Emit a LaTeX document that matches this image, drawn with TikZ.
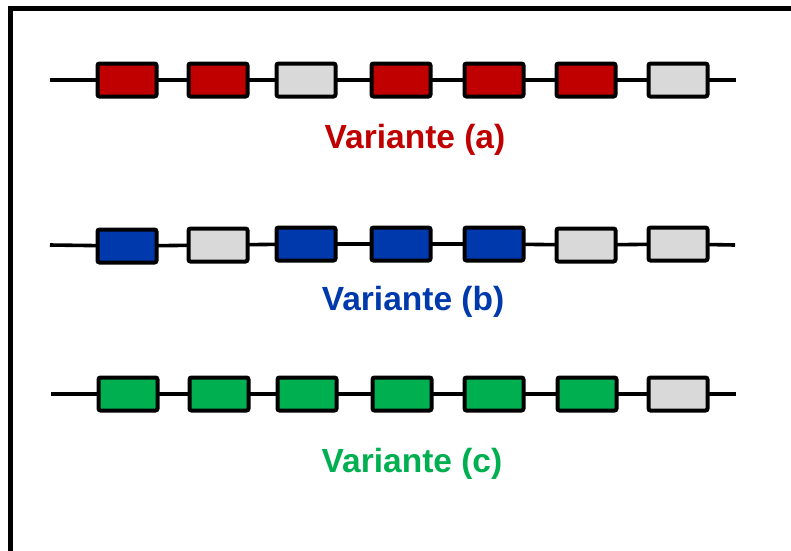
\documentclass[tikz,border=0pt]{standalone}
\usepackage{fontspec}
\setmainfont{Liberation Sans}
\definecolor{cred}{HTML}{C00000}
\definecolor{cblue}{HTML}{0039AC}
\definecolor{cgreen}{HTML}{00B050}
\definecolor{cgray}{HTML}{D9D9D9}
\begin{document}
\begin{tikzpicture}[x=1pt,y=-1pt,
  cell/.style={draw=black,line width=4pt,rounded corners=2pt,minimum width=59pt,minimum height=33pt,inner sep=0pt,outer sep=0pt},
  R/.style={cell,fill=cred},
  B/.style={cell,fill=cblue},
  G/.style={cell,fill=cgreen},
  W/.style={cell,fill=cgray},
  wire/.style={line width=3.6pt,draw=black},
  lbl/.style={font=\fontsize{33.5}{38}\selectfont\bfseries,inner sep=0pt}]
\useasboundingbox (0,0) rectangle (791,550);
\clip (0,0) rectangle (791,550);
\draw[line width=5.5pt] (10.5,600) -- (10.5,8.5) -- (820,8.5);
% row a
\coordinate (sa) at (50,80);
\coordinate (ea) at (736,80);
\node[R] (a1) at (127,80) {};
\node[R] (a2) at (218,80) {};
\node[W] (a3) at (306,80) {};
\node[R] (a4) at (401,80) {};
\node[R] (a5) at (494,80) {};
\node[R] (a6) at (586,80) {};
\node[W] (a7) at (678,80) {};
\draw[wire] (sa) -- (a1) (a1) -- (a2) (a2) -- (a3) (a3) -- (a4) (a4) -- (a5) (a5) -- (a6) (a6) -- (a7) (a7) -- (ea);
\node[lbl,text=cred] (la) at (415,140) {Variante (a)};
% row b
\coordinate (sb) at (50,245);
\coordinate (eb) at (735,245);
\node[B] (b1) at (127,246) {};
\node[W] (b2) at (218,245) {};
\node[B] (b3) at (306,244) {};
\node[B] (b4) at (401,244) {};
\node[B] (b5) at (494,244) {};
\node[W] (b6) at (586,245) {};
\node[W] (b7) at (678,244) {};
\draw[wire] (sb) -- (b1) (b1) -- (b2) (b2) -- (b3) (b3) -- (b4) (b4) -- (b5) (b5) -- (b6) (b6) -- (b7) (b7) -- (eb);
\node[lbl,text=cblue] (lb) at (413,302) {Variante (b)};
% row c
\coordinate (sc) at (51,394);
\coordinate (ec) at (736,394);
\node[G] (c1) at (128,394) {};
\node[G] (c2) at (219,394) {};
\node[G] (c3) at (307,394) {};
\node[G] (c4) at (402,394) {};
\node[G] (c5) at (494,394) {};
\node[G] (c6) at (587,394) {};
\node[W] (c7) at (678,394) {};
\draw[wire] (sc) -- (c1) (c1) -- (c2) (c2) -- (c3) (c3) -- (c4) (c4) -- (c5) (c5) -- (c6) (c6) -- (c7) (c7) -- (ec);
\node[lbl,text=cgreen] (lc) at (412,464) {Variante (c)};
\end{tikzpicture}
\end{document}
